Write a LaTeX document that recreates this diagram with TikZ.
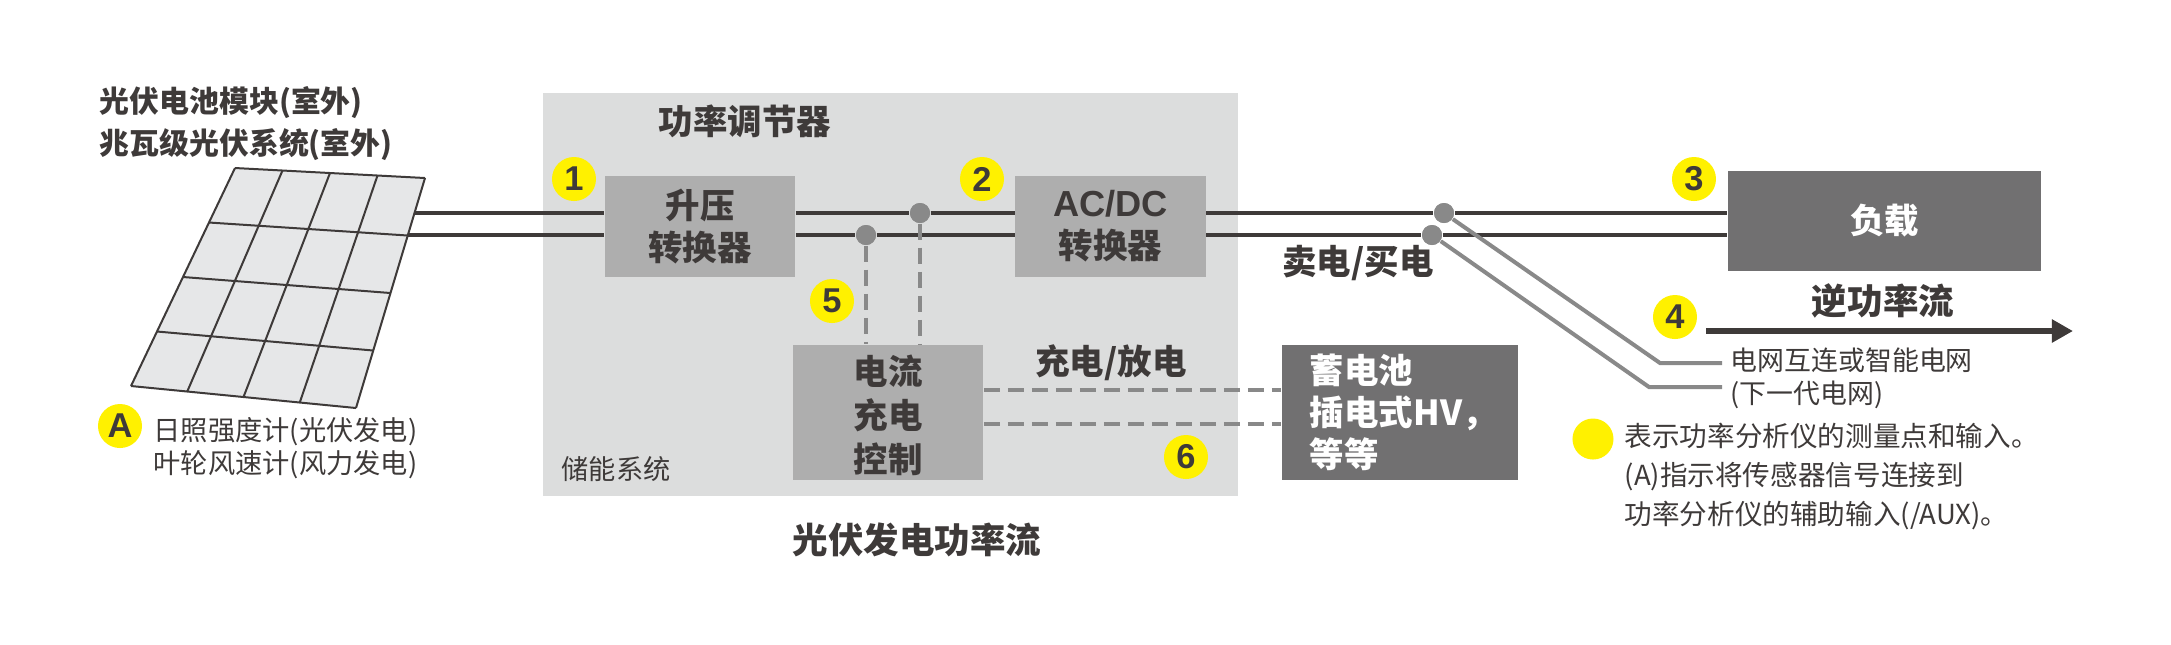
\documentclass[tikz,border=0pt]{standalone}
\usepackage{fontspec}
\usepackage{xcolor}
\usetikzlibrary{arrows.meta,calc}
\setmainfont{Noto Sans CJK SC}
\newfontfamily\badgefont{Liberation Sans}
\definecolor{inkdark}{HTML}{3E3A39}
\definecolor{dotgrey}{HTML}{898989}
\definecolor{roomgrey}{HTML}{DCDDDD}
\definecolor{blockgrey}{HTML}{AEAEAE}
\definecolor{loadgrey}{HTML}{717071}
\definecolor{panelgrey}{HTML}{E6E7E8}
\definecolor{badgeyellow}{HTML}{FFF100}
\begin{document}
\begin{tikzpicture}[x=0.01cm,y=-0.01cm,
                    every node/.style={text=inkdark,inner sep=0pt},
                    smalltxt/.style={font=\fontsize{7.75pt}{9.4pt}\selectfont},
                    gridfont/.style={font=\fontsize{7.65pt}{9.4pt}\selectfont},
                    midtxt/.style={font=\fontsize{8.5pt}{11.95pt}\selectfont\bfseries},
                    headtxt/.style={font=\fontsize{9.8pt}{11.95pt}\selectfont\bfseries},
                    bigtxt/.style={font=\fontsize{10.1pt}{11.95pt}\selectfont\bfseries},
                    legendtxt/.style={font=\fontsize{7.85pt}{11.2pt}\selectfont},
                    block/.style={fill=blockgrey,headtxt,align=center,minimum width=1.9cm},
                    darkblock/.style={fill=loadgrey,headtxt,text=white},
                    badge/.style={circle,fill=badgeyellow,minimum size=0.44cm,font=\badgefont\fontsize{9.8pt}{10pt}\selectfont\bfseries},
                    powerline/.style={draw=inkdark,line width=0.04cm},
                    sensorline/.style={draw=dotgrey,line width=0.04cm},
                    ctrlline/.style={draw=dotgrey,line width=0.04cm,dash pattern=on 0.16cm off 0.08cm},
                    junction/.style={circle,fill=dotgrey,minimum size=0.2cm},
                    panelline/.style={draw=inkdark,line width=0.02cm}]
    \useasboundingbox (0,0) rectangle (2171,644);
    \fill[roomgrey] (543,93) rectangle (1238,496);
    \coordinate (pTL) at (235,168);
    \coordinate (pTR) at (425,178);
    \coordinate (pBR) at (356,408);
    \coordinate (pBL) at (131,386);
    \fill[panelgrey] (pTL) -- (pTR) -- (pBR) -- (pBL) -- cycle;
    \foreach \k in {0,...,4} {
        \draw[panelline] ($(pTL)!\k/4!(pBL)$) -- ($(pTR)!\k/4!(pBR)$);
        \draw[panelline] ($(pTL)!\k/4!(pTR)$) -- ($(pBL)!\k/4!(pBR)$);
    }
    \coordinate (panelup) at (415,213);
    \coordinate (panellow) at (408,235);
    \node[block,minimum height=1.01cm] (boost) at (700,226.5) {升压\\转换器};
    \node[block,minimum height=1.01cm] (acdc) at (1110.5,226.5) {{\badgefont\fontsize{10.3pt}{11.95pt}\selectfont AC/DC}\\转换器};
    \node[block,minimum height=1.35cm,font=\fontsize{9.8pt}{12.4pt}\selectfont\bfseries] (charge) at (888,412.5) {\rule{0pt}{0.35cm}电流\\充电\\控制};
    \node[darkblock,minimum width=3.13cm,minimum height=1cm] (load) at (1884.5,221) {负载};
    \node[darkblock,minimum width=2.36cm,minimum height=1.35cm,inner xsep=0.28cm,text width=1.8cm,align=left] (battery) at (1400,412.5) {蓄电池\\\mbox{插电式HV，}\\等等};
    \node[junction] (dotup) at (920,213) {};
    \node[junction] (dotlow) at (866,235) {};
    \node[junction] (gridup) at (1444,213) {};
    \node[junction] (gridlow) at (1432,235) {};
    \draw[powerline] (panelup) -- (panelup -| boost.west);
    \draw[powerline] (panellow) -- (panellow -| boost.west);
    \draw[powerline] (boost.east |- panelup) -- (dotup) -- (acdc.west |- panelup);
    \draw[powerline] (boost.east |- panellow) -- (dotlow) -- (acdc.west |- panellow);
    \draw[powerline] (acdc.east |- panelup) -- (gridup) -- (load.west |- panelup);
    \draw[powerline] (acdc.east |- panellow) -- (gridlow) -- (load.west |- panellow);
    \draw[ctrlline] (dotlow) -- (dotlow |- charge.north);
    \draw[ctrlline] (dotup) -- (dotup |- charge.north);
    \coordinate (batup) at (battery.west |- 0,390);
    \coordinate (batlow) at (battery.west |- 0,424);
    \draw[ctrlline] (charge.east |- batup) -- (batup);
    \draw[ctrlline] (charge.east |- batlow) -- (batlow);
    \coordinate (bendup) at (1660,363);
    \coordinate (bendlow) at (1649,387);
    \coordinate (endup) at (1722,363);
    \coordinate (endlow) at (1722,387);
    \draw[sensorline] (gridup) -- (bendup) -- (endup);
    \draw[sensorline] (gridlow) -- (bendlow) -- (endlow);
    \node[junction] at (dotup) {};
    \node[junction] at (dotlow) {};
    \node[junction] at (gridup) {};
    \node[junction] at (gridlow) {};
    \coordinate (flowstart) at (1706,331);
    \coordinate (flowend) at (2073,331);
    \draw[draw=inkdark,line width=0.065cm,-{Triangle[length=0.21cm,width=0.22cm,fill=inkdark]}] (flowstart) -- (flowend);
    \node[badge] (b1) at (574,179) {1};
    \node[badge] (b2) at (982,179) {2};
    \node[badge] (b3) at (1694,179) {3};
    \node[badge] (b4) at (1675,317) {4};
    \node[badge] (b5) at (832,301) {5};
    \node[badge] (b6) at (1186,457) {6};
    \node[badge] (bA) at (120,426) {A};
    \node[badge,minimum size=0.41cm] (bkey) at (1593,439) {};
    \node[midtxt,anchor=west,align=left] (pvtxt) at (99,124) {光伏电池模块(室外)\\兆瓦级光伏系统(室外)};
    \node[smalltxt,anchor=west,align=left] (sunsense) at (153,448) {日照强度计(光伏发电)\\叶轮风速计(风力发电)};
    \node[headtxt,anchor=west] (pcs) at (658,121) {功率调节器};
    \node[smalltxt,anchor=west] (store) at (561,469) {储能系统};
    \node[headtxt] (chargetxt) at (1111,363) {充电/放电};
    \node[bigtxt] (pvflow) at (917,540) {光伏发电功率流};
    \node[headtxt] (sellbuy) at (1358,263) {卖电/买电};
    \node[bigtxt] (revflow) at (1883,301) {逆功率流};
    \node[gridfont,anchor=west,align=left] (gridtxt) at (1730,378.5) {电网互连或智能电网\\(下一代电网)};
    \node[legendtxt,anchor=west,align=left] (keytxt) at (1624,476.5) {表示功率分析仪的测量点和输入。\\(A)指示将传感器信号连接到\\功率分析仪的辅助输入(/AUX)。};
\end{tikzpicture}
\end{document}
